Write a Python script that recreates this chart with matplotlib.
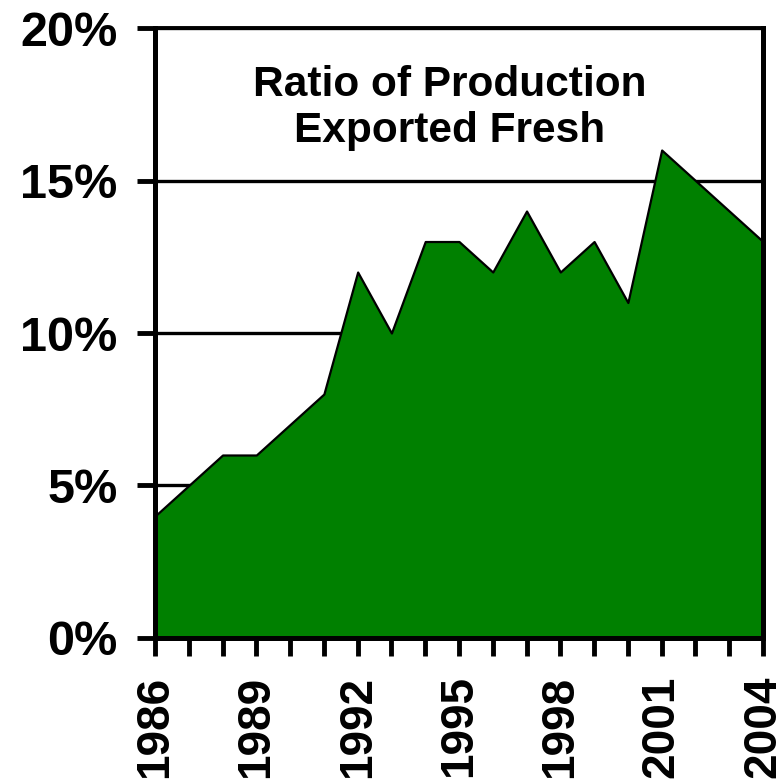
import matplotlib
matplotlib.use("Agg")
import matplotlib.pyplot as plt

# ratio of production exported fresh, percent
years = list(range(1986, 2005))
ratio = [4, 5, 6, 6, 7, 8, 12, 10, 13, 13, 12, 14, 12, 13, 11, 16, 15, 14, 13]

year_ticks = [1986, 1989, 1992, 1995, 1998, 2001, 2004]
pct_ticks = [0, 5, 10, 15, 20]
title = "Ratio of Production\nExported Fresh"

plt.rcParams["font.family"] = ["Liberation Sans", "DejaVu Sans"]
plt.rcParams["font.weight"] = "bold"

fig = plt.figure(figsize=(7.84, 7.83), dpi=100)
ax = fig.add_axes([0.1977, 0.1852, 0.9732 - 0.1977, 0.9642 - 0.1852])

# gridlines behind the area
for v in pct_ticks[1:]:
    ax.axhline(v, color="black", lw=2.4, zorder=1)

ax.fill_between(years, ratio, 0, facecolor="#008000", edgecolor="black",
                linewidth=1.6, zorder=2)

ax.set_xlim(years[0], years[-1])
ax.set_ylim(0, 20)

ax.set_yticks(pct_ticks)
ax.set_yticklabels([f"{v}%" for v in pct_ticks], fontsize=35, fontweight="bold")
ax.set_xticks(years)
ax.set_xticklabels([str(y) if y in year_ticks else "" for y in years],
                   rotation=90, fontsize=33, fontweight="bold")

ax.tick_params(axis="y", direction="out", length=13, width=3.5, pad=14)
ax.tick_params(axis="x", direction="out", length=13, width=3.5, pad=14)

for side in ["left", "bottom", "right"]:
    ax.spines[side].set_linewidth(3.6)
ax.spines["top"].set_linewidth(2.8)
for s in ax.spines.values():
    s.set_zorder(3)

ax.text(450 / 784, (783 - 108) / 783, title, transform=fig.transFigure,
        ha="center", va="center", fontsize=30.5, fontweight="bold",
        linespacing=1.2)

fig.savefig("out.png", dpi=100)
